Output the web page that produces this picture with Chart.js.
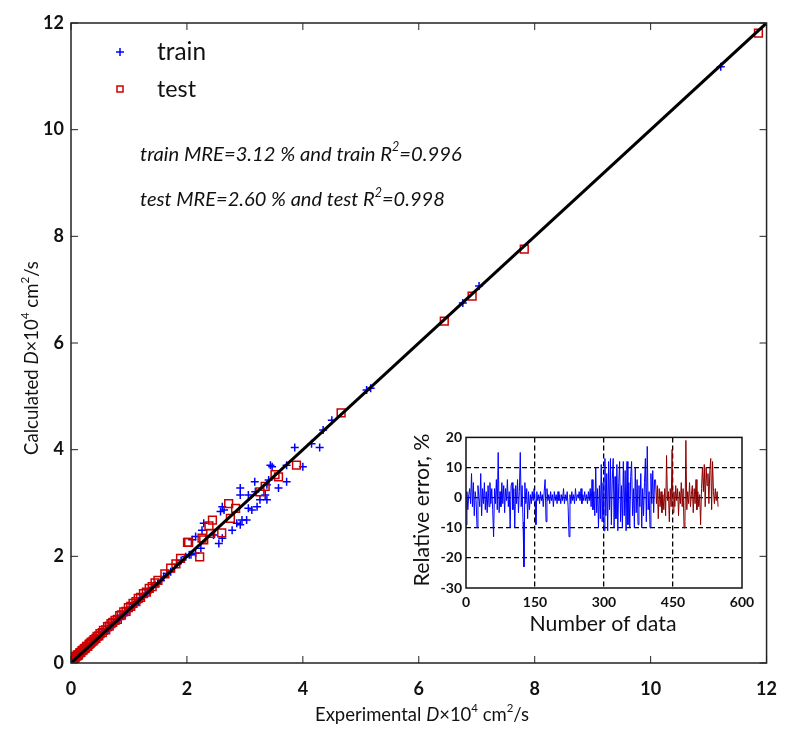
<!DOCTYPE html>
<html>
<head>
<meta charset="utf-8">
<script src="https://cdn.jsdelivr.net/npm/chart.js@4.4.1/dist/chart.umd.min.js"></script>
<style>
  html, body { margin: 0; padding: 0; background: #fff; }
  #wrap { position: relative; width: 792px; height: 740px; }
  #mainChart { position: absolute; left: 0; top: 0; }
  #insetChart { position: absolute; left: 405px; top: 425px; }
</style>
</head>
<body>
<div id="wrap">
  <canvas id="mainChart" width="792" height="740"></canvas>
  <canvas id="insetChart" width="360" height="215"></canvas>
</div>
<script>
const FONT = "Lato, 'Open Sans', sans-serif";
const INK = "#111";
const BLUE = "#0000ff";
const RED = "#cc0000";
const MAROON = "#8b0000";

// main parity plot: experimental vs calculated D x 10^4 (cm2/s)
const trainX = [
  0.0, 0.01, 0.02, 0.03, 0.04, 0.05, 0.06, 0.07, 0.08, 0.09, 0.1, 0.11, 0.12, 0.14, 0.15, 0.16,
  0.18, 0.19, 0.2, 0.22, 0.24, 0.25, 0.27, 0.28, 0.31, 0.33, 0.35, 0.37, 0.39, 0.41, 0.43, 0.45,
  0.47, 0.5, 0.52, 0.55, 0.57, 0.6, 0.62, 0.65, 0.68, 0.71, 0.74, 0.77, 0.8, 0.83, 0.86, 0.89,
  0.92, 0.95, 0.98, 1.01, 1.05, 1.08, 1.12, 1.16, 1.2, 1.24, 1.28, 1.32, 1.36, 1.4, 1.45, 1.5,
  1.55, 1.6, 1.65, 1.72, 1.82, 1.9,
  1.98, 2.04, 2.07, 2.09, 2.15, 2.15, 2.24, 2.26, 2.29, 2.46, 2.55, 2.58, 2.61, 2.61, 2.64, 2.78,
  2.86, 2.92, 2.92, 2.92, 2.95, 3.03, 3.06, 3.06, 3.12, 3.17, 3.18, 3.21, 3.26, 3.35, 3.38, 3.38,
  3.41, 3.44, 3.47, 3.58, 3.72, 3.72, 3.86, 4.0, 4.15, 4.29, 4.35, 4.5, 5.1, 5.17, 6.76, 7.04, 11.21
];
const trainY = [
  0.01, 0.02, 0.03, 0.02, 0.05, 0.06, 0.05, 0.08, 0.09, 0.08, 0.1, 0.12, 0.13, 0.13, 0.16, 0.17,
  0.17, 0.18, 0.21, 0.23, 0.23, 0.24, 0.28, 0.29, 0.3, 0.34, 0.36, 0.36, 0.38, 0.42, 0.44, 0.44,
  0.46, 0.51, 0.53, 0.54, 0.56, 0.61, 0.63, 0.64, 0.67, 0.72, 0.75, 0.76, 0.79, 0.84, 0.87, 0.88,
  0.91, 0.96, 0.99, 1.0, 1.04, 1.09, 1.13, 1.15, 1.19, 1.25, 1.3, 1.31, 1.35, 1.42, 1.47, 1.49,
  1.54, 1.62, 1.68, 1.71, 1.85, 1.92,
  1.99, 2.03, 2.03, 2.31, 2.37, 2.06, 2.15, 2.49, 2.62, 2.4, 2.24, 2.84, 2.93, 2.34, 2.87, 2.49,
  2.62, 3.28, 3.15, 2.59, 2.68, 2.68, 3.15, 2.9, 2.87, 3.4, 3.21, 2.93, 3.06, 3.15, 3.34, 3.06,
  3.43, 3.71, 3.68, 3.28, 3.71, 3.4, 4.04, 3.68, 4.11, 4.04, 4.37, 4.55, 5.12, 5.15, 6.75, 7.07, 11.18
];
const testX = [
  0.01, 0.02, 0.04, 0.05, 0.07, 0.08, 0.1, 0.11, 0.13, 0.15, 0.17, 0.19, 0.21, 0.23, 0.25, 0.27,
  0.29, 0.31, 0.33, 0.35, 0.38, 0.4, 0.43, 0.45, 0.48, 0.5, 0.54, 0.56, 0.6, 0.63, 0.66, 0.69,
  0.72, 0.76, 0.8, 0.84, 0.87, 0.91, 0.95, 0.99, 1.03, 1.07, 1.12, 1.16, 1.2, 1.25, 1.3, 1.35,
  1.4, 1.45, 1.5, 1.62, 1.72,
  1.81, 1.89, 2.01, 2.03, 2.22, 2.26, 2.29, 2.38, 2.41, 2.44, 2.6, 2.72, 2.75, 2.84, 3.26, 3.35,
  3.52, 3.58, 3.89, 4.66, 6.44, 6.92, 7.82, 11.86
];
const testY = [
  0.02, 0.05, 0.06, 0.09, 0.09, 0.12, 0.13, 0.15, 0.15, 0.19, 0.2, 0.23, 0.24, 0.27, 0.28, 0.31,
  0.31, 0.35, 0.37, 0.39, 0.41, 0.44, 0.46, 0.5, 0.51, 0.55, 0.57, 0.61, 0.62, 0.68, 0.69, 0.74,
  0.76, 0.8, 0.82, 0.89, 0.9, 0.96, 0.97, 1.04, 1.06, 1.12, 1.15, 1.21, 1.23, 1.3, 1.33, 1.4,
  1.43, 1.5, 1.55, 1.67, 1.78,
  1.86, 1.96, 2.26, 2.26, 1.99, 2.34, 2.31, 2.57, 2.43, 2.68, 2.44, 2.99, 2.71, 2.9, 3.21, 3.31,
  3.53, 3.49, 3.71, 4.69, 6.41, 6.88, 7.76, 11.81
];
const fitLine = [0, 12];
const mainTicks = [0, 2, 4, 6, 8, 10, 12];

// inset: relative error (%) per data number, every second point
const ERR_STEP = 2;
const TEST_START = 412;
const trainErr = [
  -9, 2, -4, 1, 3, -2, 8, -3, 5, -6,
  2, -1, -10, 4, 0, -3, 8, -6, 3, -2,
  5, -4, 2, -5, 4, -3, 5, -2, 3, -4,
  -13, 3, -2, 6, -4, 15, -5, 2, -3, 5,
  -2, 4, -5, 3, -1, 6, -3, 2, -10, 4,
  5, -4, 3, -10, 4, -2, 6, -5, 2, 15,
  -3, 4, -8, -23, 5, -2, 3, -7, 2, -4,
  1, -2, 2, -1, 3, -1, -9, 2, -1, 1,
  -2, 2, -1, 1, -3, 2, 6, -8, 3, -1,
  1, -2, 2, -1, 1, -3, 2, -1, 1, -2,
  2, -1, 1, -2, 1, -1, 3, -2, 1, -1,
  2, -3, -13, 1, -2, 2, -1, 1, -2, 3,
  -1, 1, 0, 2, -1, 3, -2, 1, -1, 2,
  -1, 1, -2, 2, -1, 3, -3, 6, -4, 2,
  -6, 10, -5, 3, -10, 4, -7, 11, -8, 5,
  -11, 13, -6, 8, -11, 12, -4, 13, -9, 6,
  13, -10, 7, -7, 11, -11, 5, 12, -8, 4,
  -10, 12, -6, 9, -11, 12, -9, 5, -10, 7,
  12, -6, 3, -10, 10, -5, 6, -9, 4, -3,
  8, -10, 3, -6, 5, 13, -8, 17, -4, 2,
  -10, 8, -2, 9, -5, 6
];
const testErr = [
  6, -2, 4, -7, 3, -3, 2, -5, 1, -4,
  3, -6, 14, -1, 2, -8, 3, -3, 16, -5,
  2, -3, 4, -1, 3, -6, 2, -2, 5, -3,
  3, -10, -8, 19, -4, 2, -2, 5, -3, 1,
  4, -5, 3, -2, 6, -4, 2, -3, 1, -9,
  3, 10, 2, 11, -3, 10, 4, 8, -2, 9,
  13, -4, 12, 2, -2, 3, -1, 2, -3
];

function drawRich(ctx, segs, x, y, size, align, fitWidth) {
  // segs: [text, fontStyle, isSuperscript]
  const measure = (sz) => segs.map(([t, st, sup]) => {
    const s = sup ? sz * 0.62 : sz;
    const font = `${st || "normal"} ${s}px ${FONT}`;
    ctx.font = font;
    return { t, font, sup, w: ctx.measureText(t).width };
  });
  let parts = measure(size);
  let total = parts.reduce((a, p) => a + p.w, 0);
  if (fitWidth) {
    size = size * fitWidth / total;
    parts = measure(size);
    total = parts.reduce((a, p) => a + p.w, 0);
  }
  let cx = align === "center" ? x - total / 2 : x;
  ctx.textBaseline = "middle";
  ctx.textAlign = "left";
  ctx.fillStyle = INK;
  for (const p of parts) {
    ctx.font = p.font;
    ctx.fillText(p.t, cx, p.sup ? y - size * 0.36 : y);
    cx += p.w;
  }
}

const mainDecor = {
  id: "mainDecor",
  afterDraw(chart) {
    const { ctx, chartArea: a, scales } = chart;
    ctx.save();
    ctx.strokeStyle = "#222";
    ctx.lineWidth = 1.5;
    ctx.strokeRect(a.left, a.top, a.right - a.left, a.bottom - a.top);
    ctx.lineWidth = 1;
    ctx.beginPath();
    for (const v of mainTicks) {
      const px = scales.x.getPixelForValue(v);
      ctx.moveTo(px, a.bottom); ctx.lineTo(px, a.bottom - 7);
      ctx.moveTo(px, a.top); ctx.lineTo(px, a.top + 7);
      const py = scales.y.getPixelForValue(v);
      ctx.moveTo(a.left, py); ctx.lineTo(a.left + 7, py);
      ctx.moveTo(a.right, py); ctx.lineTo(a.right - 7, py);
    }
    ctx.stroke();

    // legend
    ctx.strokeStyle = BLUE;
    ctx.lineWidth = 1.5;
    ctx.beginPath();
    ctx.moveTo(116, 52); ctx.lineTo(124, 52);
    ctx.moveTo(120, 48); ctx.lineTo(120, 56);
    ctx.stroke();
    ctx.strokeStyle = RED;
    ctx.strokeRect(117, 86, 6, 6);
    drawRich(ctx, [["train"]], 157, 52, 20, "left", 49);
    drawRich(ctx, [["test"]], 157, 89, 20, "left", 39);

    // statistics
    drawRich(ctx, [["train MRE=3.12 % and train R", "italic"], ["2", "italic", true], ["=0.996", "italic"]],
      140, 154, 15, "left", 322);
    drawRich(ctx, [["test MRE=2.60 % and test R", "italic"], ["2", "italic", true], ["=0.998", "italic"]],
      140, 200, 15, "left", 305);

    // axis titles
    const title = (lbl) => [[lbl], ["D", "italic"], ["\u00d710"], ["4", "normal", true], [" cm"], ["2", "normal", true], ["/s"]];
    drawRich(ctx, title("Experimental "), 422, 715, 16, "center", 214);
    ctx.translate(32, 358);
    ctx.rotate(-Math.PI / 2);
    drawRich(ctx, title("Calculated "), 0, 0, 16, "center", 194);
    ctx.restore();
  }
};

new Chart(document.getElementById("mainChart"), {
  type: "scatter",
  data: {
    datasets: [
      {
        type: "line",
        label: "fit",
        data: fitLine.map((v) => ({ x: v, y: v })),
        borderColor: "#000",
        borderWidth: 3,
        pointRadius: 0,
        order: 0,
      },
      {
        label: "test",
        data: testX.map((x, i) => ({ x, y: testY[i] })),
        pointStyle: "rect",
        pointRadius: 5.5,
        borderColor: RED,
        backgroundColor: "transparent",
        borderWidth: 1.5,
        order: 1,
      },
      {
        label: "train",
        data: trainX.map((x, i) => ({ x, y: trainY[i] })),
        pointStyle: "cross",
        pointRadius: 4,
        borderColor: BLUE,
        borderWidth: 1.5,
        order: 2,
      },
    ],
  },
  options: {
    responsive: false,
    animation: false,
    layout: { padding: { left: 0, top: 23, right: 20, bottom: 0 } },
    plugins: { legend: { display: false }, tooltip: { enabled: false } },
    scales: {
      x: {
        type: "linear",
        min: 0,
        max: 12,
        afterFit: (s) => { s.height = 77; },
        afterBuildTicks: (s) => { s.ticks = mainTicks.map((v) => ({ value: v })); },
        ticks: { color: INK, padding: 15, font: { family: FONT, size: 18, weight: "bold" } },
        grid: { display: false, drawTicks: false },
        border: { display: false },
      },
      y: {
        type: "linear",
        min: 0,
        max: 12,
        afterFit: (s) => { s.width = 71; },
        afterBuildTicks: (s) => { s.ticks = mainTicks.map((v) => ({ value: v })); },
        ticks: { color: INK, padding: 7, font: { family: FONT, size: 18, weight: "bold" } },
        grid: { display: false, drawTicks: false },
        border: { display: false },
      },
    },
  },
  plugins: [mainDecor],
});

const insetDecor = {
  id: "insetDecor",
  afterDraw(chart) {
    const { ctx, chartArea: a } = chart;
    ctx.save();
    ctx.strokeStyle = "#111";
    ctx.lineWidth = 1.5;
    ctx.strokeRect(a.left, a.top, a.right - a.left, a.bottom - a.top);
    drawRich(ctx, [["Number of data"]], 198, 199, 19, "center", 147);
    ctx.translate(17, 85);
    ctx.rotate(-Math.PI / 2);
    drawRich(ctx, [["Relative error, %"]], 0, 0, 17, "center", 153);
    ctx.restore();
  }
};

const innerGrid = (ctx) => {
  const v = ctx.tick ? ctx.tick.value : null;
  const s = ctx.scale;
  return v === s.min || v === s.max ? "transparent" : "#000";
};

new Chart(document.getElementById("insetChart"), {
  type: "line",
  data: {
    datasets: [
      {
        label: "train",
        data: trainErr.map((v, k) => ({ x: k * ERR_STEP, y: v })),
        borderColor: BLUE,
        borderWidth: 1,
        pointRadius: 0,
      },
      {
        label: "test",
        data: testErr.map((v, k) => ({ x: TEST_START + k * ERR_STEP, y: v })),
        borderColor: MAROON,
        borderWidth: 1,
        pointRadius: 0,
      },
    ],
  },
  options: {
    responsive: false,
    animation: false,
    layout: { padding: { left: 0, top: 10, right: 23, bottom: 0 } },
    plugins: { legend: { display: false }, tooltip: { enabled: false } },
    scales: {
      x: {
        type: "linear",
        min: 0,
        max: 600,
        afterFit: (s) => { s.height = 52; },
        ticks: { stepSize: 150, color: INK, padding: 6, font: { family: FONT, size: 14, weight: "bold" } },
        grid: { color: innerGrid, lineWidth: 1.3, drawTicks: false },
        border: { display: false, dash: [5, 3] },
      },
      y: {
        type: "linear",
        min: -30,
        max: 20,
        afterFit: (s) => { s.width = 61; },
        ticks: { stepSize: 10, color: INK, padding: 4, font: { family: FONT, size: 14, weight: "bold" } },
        grid: { color: innerGrid, lineWidth: 1.3, drawTicks: false },
        border: { display: false, dash: [5, 3] },
      },
    },
  },
  plugins: [insetDecor],
});
</script>
</body>
</html>
